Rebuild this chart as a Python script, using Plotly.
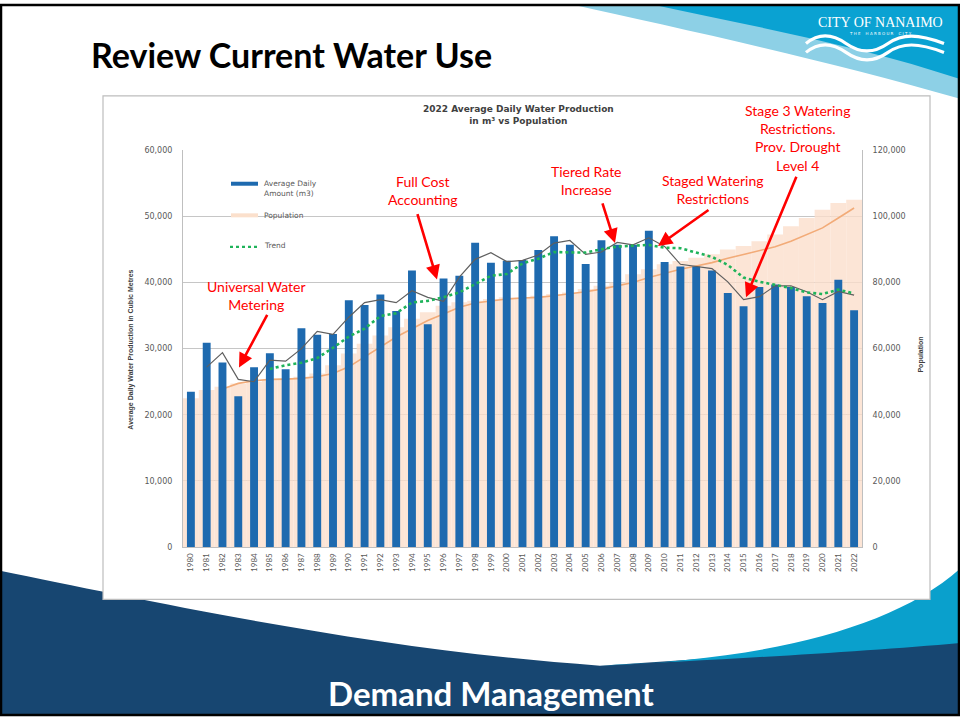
import plotly.graph_objects as go

# ---------------- data ----------------
years = [str(y) for y in range(1980, 2023)]

water_m3 = [23500, 30900, 27900, 22800, 27200, 29300, 26900, 33100, 32100, 32200,
            37300, 36600, 38200, 35700, 41800, 33700, 40600, 41000, 46000, 43000,
            43300, 43400, 44900, 47000, 45700, 42800, 46400, 45700, 45700, 47800,
            43100, 42400, 42400, 41800, 38400, 36400, 39300, 39700, 39300, 37900,
            36900, 40400, 35800]

# dark grey line (2-year moving average as drawn in the chart)
water_avg_line = [None, 27200, 29400, 25350, 25000, 28250, 28100, 30000, 32600, 32150,
                  34750, 36950, 37400, 36950, 38750, 37750, 37150, 40800, 43500, 44500,
                  43150, 43350, 44150, 45950, 46350, 44250, 44600, 46050, 45700, 46750,
                  45450, 42750, 42400, 42100, 40100, 37400, 37850, 39500, 39500, 38600,
                  37400, 38650, 38100]

# green dotted "Trend" line
trend_line = [None, None, None, None, None, 26930, 27500, 27870, 28570, 30130,
              31820, 33030, 34920, 35350, 36970, 37220, 37770, 38500, 39800, 41020,
              41270, 42880, 43600, 44600, 44550, 44520, 45030, 45420, 45550, 45680,
              45250, 45180, 44520, 43870, 42650, 40750, 40120, 39670, 39150, 38500,
              38250, 38920, 38330]

population = [45000, 47500, 48500, 49500, 50000, 50500, 51000, 51500, 52500, 55000,
              58500, 61500, 64000, 66500, 69000, 71000, 73000, 74000, 74500, 75000,
              75500, 75500, 76000, 76500, 77000, 78000, 79000, 80000, 82500, 84000,
              85500, 86500, 87500, 88500, 90000, 91000, 92500, 94500, 97000, 99500,
              102000, 104000, 105000]

population_line = [None, None, 47800, 49500, 50300, 50700, 50800, 51000, 51500, 52500,
                   54500, 57500, 60500, 63500, 66000, 68500, 70500, 72500, 73800, 74500,
                   75000, 75300, 75500, 76000, 76500, 77200, 78000, 79000, 80000, 81500,
                   82800, 84000, 85000, 86000, 87300, 88500, 89500, 90800, 92500, 94500,
                   96500, 99500, 102500]

water_ticks = [0, 10000, 20000, 30000, 40000, 50000, 60000]
pop_ticks = [0, 20000, 40000, 60000, 80000, 100000, 120000]

W, H = 960, 721


def PX(x):
    return x / W


def PY(y):
    return 1 - y / H


def path(cmds):
    out = []
    for c in cmds:
        if isinstance(c, str):
            out.append(c)
        else:
            out.append(f"{PX(c[0]):.5f},{PY(c[1]):.5f}")
    return " ".join(out)


fig = go.Figure()

fig.add_trace(go.Bar(x=years, y=population, yaxis="y", width=1.0,
                     marker=dict(color="rgba(251,222,202,0.78)", line=dict(width=0)),
                     name="Population", showlegend=False, hoverinfo="skip"))
fig.add_trace(go.Scatter(x=years, y=population_line, yaxis="y", mode="lines",
                         line=dict(color="#f2ab78", width=1.6), showlegend=False))
fig.add_trace(go.Bar(x=years, y=water_m3, yaxis="y2", width=0.5,
                     marker=dict(color="#1e6aaf", line=dict(width=0)),
                     name="Average Daily Amount (m3)", showlegend=False))
fig.add_trace(go.Scatter(x=years, y=water_avg_line, yaxis="y2", mode="lines",
                         line=dict(color="#5f5f5f", width=1.2), showlegend=False))
fig.add_trace(go.Scatter(x=years, y=trend_line, yaxis="y2", mode="lines",
                         line=dict(color="#1fb35a", width=2.6, dash="dot"),
                         name="Trend", showlegend=False))

tickfont = dict(family="DejaVu Sans", size=8, color="#595959")

shapes = []
# bottom navy band
shapes.append(dict(type="path", xref="paper", yref="paper", layer="below",
                   path=path(["M", (0, 574), "C", (150, 605), (380, 655), (600, 670),
                              "L", (960, 646), "L", (960, 721), "L", (0, 721), "Z"]),
                   fillcolor="#174671", line=dict(width=0)))
# light blue wedge bottom right
shapes.append(dict(type="path", xref="paper", yref="paper", layer="below",
                   path=path(["M", (600, 670), "C", (760, 664), (890, 635), (960, 572),
                              "L", (960, 647), "C", (860, 656), (720, 664), (600, 670), "Z"]),
                   fillcolor="#0aa0cc", line=dict(width=0)))
# top swoosh light band
shapes.append(dict(type="path", xref="paper", yref="paper", layer="below",
                   path=path(["M", (570, 0), "C", (680, 25), (820, 55), (960, 96),
                              "L", (960, 0), "Z"]),
                   fillcolor="#8dd0e6", line=dict(width=0)))
# top swoosh dark cyan
shapes.append(dict(type="path", xref="paper", yref="paper", layer="below",
                   path=path(["M", (650, 0), "C", (750, 22), (860, 42), (960, 76),
                              "L", (960, 0), "Z"]),
                   fillcolor="#0aa2d2", line=dict(width=0)))
# logo waves
for dy in (0, 9):
    shapes.append(dict(type="path", xref="paper", yref="paper", layer="below",
                       path=path(["M", (806, 40 + dy), "C", (818, 30 + dy), (832, 30 + dy), (846, 40 + dy),
                                  "C", (860, 50 + dy), (874, 50 + dy), (888, 40 + dy),
                                  "C", (902, 30 + dy), (918, 30 + dy), (944, 40 + dy)]),
                       line=dict(color="white", width=3.2)))
# chart box
shapes.append(dict(type="rect", xref="paper", yref="paper", layer="below",
                   x0=PX(103), x1=PX(930), y0=PY(603), y1=PY(93),
                   fillcolor="white", line=dict(color="#bdbdbd", width=1.2)))
# slide border
shapes.append(dict(type="rect", xref="paper", yref="paper", layer="above",
                   x0=PX(1), x1=PX(959), y0=PY(720), y1=PY(1),
                   fillcolor="rgba(0,0,0,0)", line=dict(color="black", width=2.5)))
# legend keys
shapes.append(dict(type="line", xref="paper", yref="paper",
                   x0=PX(231), x1=PX(258), y0=PY(182), y1=PY(182),
                   line=dict(color="#1e6aaf", width=4)))
shapes.append(dict(type="line", xref="paper", yref="paper",
                   x0=PX(231), x1=PX(258), y0=PY(214), y1=PY(214),
                   line=dict(color="#fbe0cc", width=4)))
shapes.append(dict(type="line", xref="paper", yref="paper",
                   x0=PX(230), x1=PX(257), y0=PY(246), y1=PY(246),
                   line=dict(color="#1fb35a", width=2.2, dash="dot")))

annotations = []


def txt(x, y, text, size, color, family="Lato", xanchor="center", bold=False, angle=0,
        align="center"):
    annotations.append(dict(x=PX(x), y=PY(y), xref="paper", yref="paper", text=text,
                            showarrow=False, xanchor=xanchor, yanchor="middle",
                            textangle=angle, align=align,
                            font=dict(family=family, size=size, color=color,
                                      weight="bold" if bold else "normal")))


def arrow(x0, y0, x1, y1):
    annotations.append(dict(x=PX(x1), y=PY(y1), xref="paper", yref="paper", text="",
                            showarrow=True, ax=x0 - x1, ay=y0 - y1,
                            arrowhead=2, arrowsize=1.1, arrowwidth=2.6,
                            arrowcolor="#ff0000"))


# slide title & footer
txt(89, 51, "Review Current Water Use", 34, "black", xanchor="left", bold=True)
txt(491, 698, "Demand Management", 33, "white", bold=True)
txt(880, 19, "CITY OF NANAIMO", 14, "white", family="Liberation Serif")
txt(880, 30, "T H E &nbsp;&nbsp; H A R B O U R &nbsp;&nbsp; C I T Y", 4, "white",
    family="DejaVu Sans")

# chart title
txt(518, 112, "<b>2022 Average Daily Water Production</b><br><b>in m³ vs Population</b>",
    9, "#404040", family="DejaVu Sans")

# axis titles
txt(131, 350, "Average Daily Water Production in Cubic Metres", 7, "#404040",
    family="Liberation Sans", angle=-90, bold=True)
txt(921, 355, "Population", 7, "#404040", family="Liberation Sans", angle=-90, bold=True)

# legend texts
txt(262, 187, "Average Daily<br>Amount (m3)", 7.5, "#595959", family="DejaVu Sans",
    xanchor="left", align="left")
txt(262, 214, "Population", 7.5, "#595959", family="DejaVu Sans", xanchor="left")
txt(262, 245, "Trend", 7.5, "#595959", family="DejaVu Sans", xanchor="left")

red = "#ff0000"
txt(256, 295, "Universal Water<br>Metering", 14, red)
arrow(268, 314, 239, 368)
txt(423, 189, "Full Cost<br>Accounting", 14, red)
arrow(417, 212, 437, 279)
txt(586, 179, "Tiered Rate<br>Increase", 14, red)
arrow(602, 201, 615, 242)
txt(713, 188, "Staged Watering<br>Restrictions", 14, red)
arrow(710, 208, 658, 245)
txt(797, 136, "Stage 3 Watering<br>Restrictions.<br>Prov. Drought<br>Level 4", 14, red)
arrow(797, 175, 746, 297)

fig.update_layout(
    width=W, height=H,
    margin=dict(l=0, r=0, t=0, b=0),
    paper_bgcolor="white", plot_bgcolor="rgba(0,0,0,0)",
    barmode="overlay", showlegend=False,
    xaxis=dict(domain=[PX(183), PX(862)], type="category", tickangle=-90,
               tickfont=dict(family="Lato", size=8, color="#595959"),
               showline=True, linecolor="#bfbfbf", linewidth=1, showgrid=False,
               ticks="", ticklabelstandoff=2),
    yaxis=dict(domain=[PY(550), PY(148)], side="right", range=[0, 120000],
               tickvals=pop_ticks, tickformat=",", tickfont=tickfont,
               showgrid=True, gridcolor="#c6c6c6", gridwidth=1, zeroline=False,
               showline=True, linecolor="#bfbfbf", ticklabelstandoff=8),
    yaxis2=dict(overlaying="y", side="left", range=[0, 60000],
                tickvals=water_ticks, tickformat=",", tickfont=tickfont,
                showgrid=False, zeroline=False,
                showline=True, linecolor="#bfbfbf", ticklabelstandoff=8),
    shapes=shapes, annotations=annotations,
)

fig.write_html("out.html", config={"displayModeBar": False},
               post_script="document.body.style.margin='0px';document.body.style.overflow='hidden';")
